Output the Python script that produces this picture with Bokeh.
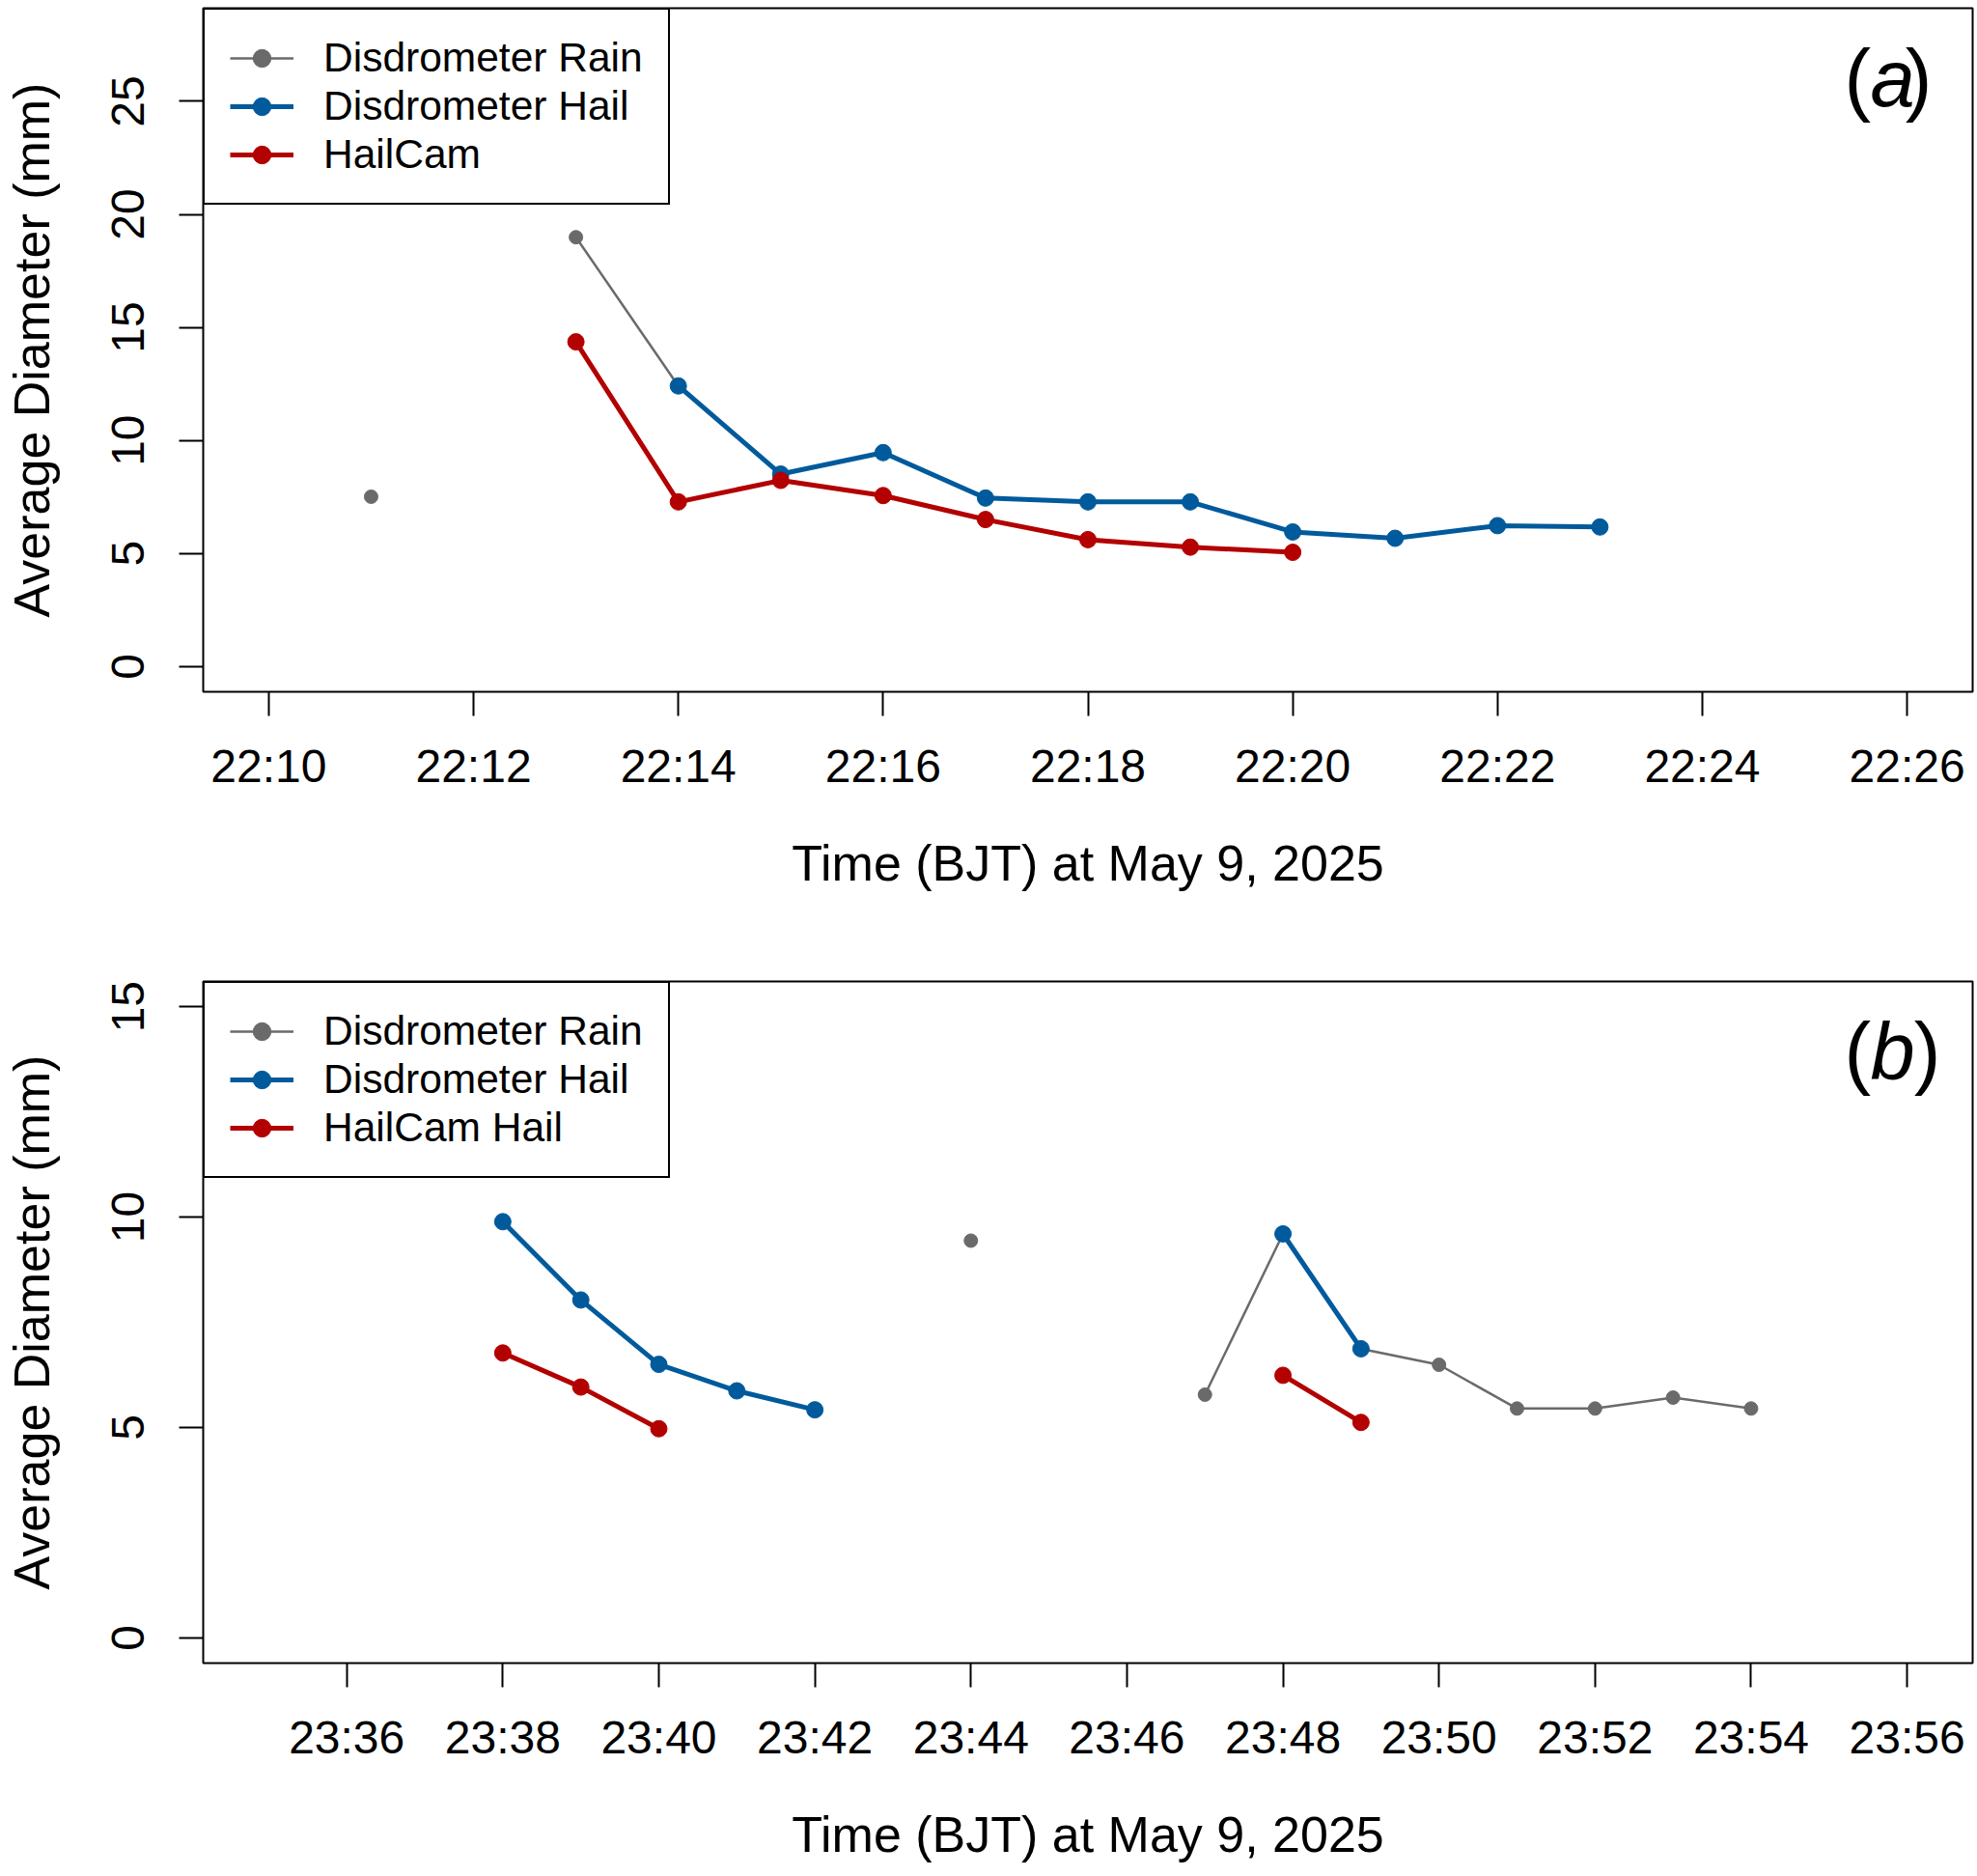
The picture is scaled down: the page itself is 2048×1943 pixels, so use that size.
import math
from bokeh.plotting import figure
from bokeh.models import Range1d, FixedTicker, Legend, LegendItem, Label
from bokeh.layouts import column
from bokeh.embed import file_html
from bokeh.resources import INLINE

FONT = "Liberation Sans"

# ---------------- Panel (a) data ----------------
a_rain_time = ["22:11", "22:12", "22:13", "22:14"]
a_rain_diam = [7.51, None, 18.99, 12.41]
a_hail_time = ["22:14", "22:15", "22:16", "22:17", "22:18", "22:19", "22:20", "22:21", "22:22", "22:23"]
a_hail_diam = [12.41, 8.51, 9.46, 7.45, 7.28, 7.28, 5.95, 5.67, 6.23, 6.17]
a_cam_time = ["22:13", "22:14", "22:15", "22:16", "22:17", "22:18", "22:19", "22:20"]
a_cam_diam = [14.36, 7.28, 8.23, 7.56, 6.50, 5.61, 5.28, 5.05]
a_xticks = ["22:10", "22:12", "22:14", "22:16", "22:18", "22:20", "22:22", "22:24", "22:26"]
a_yticks = [0, 5, 10, 15, 20, 25]
a_xlim = ["22:10", "22:26"]
a_ylim = [0, 28]
a_legend = ["Disdrometer Rain", "Disdrometer Hail", "HailCam"]
a_tag = "a"

# ---------------- Panel (b) data ----------------
b_rain_time = ["23:44", "23:45", "23:46", "23:47", "23:48", "23:49", "23:50", "23:51", "23:52", "23:53", "23:54"]
b_rain_diam = [9.44, None, None, 5.78, 9.60, 6.87, 6.49, 5.45, 5.45, 5.71, 5.45]
b_hail_time = ["23:38", "23:39", "23:40", "23:41", "23:42", "23:43", "23:44", "23:45", "23:46", "23:47", "23:48", "23:49"]
b_hail_diam = [9.89, 8.03, 6.50, 5.87, 5.42, None, None, None, None, None, 9.60, 6.87]
b_cam_time = ["23:38", "23:39", "23:40", "23:41", "23:42", "23:43", "23:44", "23:45", "23:46", "23:47", "23:48", "23:49"]
b_cam_diam = [6.77, 5.96, 4.97, None, None, None, None, None, None, None, 6.24, 5.12]
b_xticks = ["23:36", "23:38", "23:40", "23:42", "23:44", "23:46", "23:48", "23:50", "23:52", "23:54", "23:56"]
b_yticks = [0, 5, 10, 15]
b_xlim = ["23:35", "23:56"]
b_ylim = [0, 15]
b_legend = ["Disdrometer Rain", "Disdrometer Hail", "HailCam Hail"]
b_tag = "b"

X_LABEL = "Time (BJT) at May 9, 2025"
Y_LABEL = "Average Diameter (mm)"

C_RAIN = "#6a6a6a"
C_HAIL = "#005a9c"
C_CAM = "#b30000"


def to_min(s):
    h, m = s.split(":")
    return int(h) * 60 + int(m)


def vals(v):
    return [float("nan") if x is None else float(x) for x in v]


def padded(lo, hi):
    d = (hi - lo) * 0.04
    return Range1d(lo - d, hi + d)


def panel(rain_t, rain_d, hail_t, hail_d, cam_t, cam_d, xticks, yticks, xlim, ylim,
          legend_labels, tag, frame_h, b_top, b_bottom, close_x):
    p = figure(frame_width=1833, frame_height=frame_h,
               min_border_left=209, min_border_right=2,
               min_border_top=b_top, min_border_bottom=b_bottom,
               output_backend="svg", toolbar_location=None,
               x_range=padded(to_min(xlim[0]), to_min(xlim[1])),
               y_range=padded(ylim[0], ylim[1]))
    p.grid.visible = False
    p.outline_line_color = "black"
    p.outline_line_width = 2
    p.background_fill_color = "white"
    p.border_fill_color = "white"

    xt = [to_min(t) for t in xticks]
    p.xaxis.ticker = FixedTicker(ticks=xt)
    p.xaxis.major_label_overrides = {v: t for v, t in zip(xt, xticks)}
    p.yaxis.ticker = FixedTicker(ticks=yticks)

    for ax in (p.xaxis, p.yaxis):
        ax.axis_line_color = None
        ax.major_tick_out = 25
        ax.major_tick_in = 0
        ax.minor_tick_line_color = None
        ax.major_tick_line_width = 2
        ax.major_tick_line_color = "black"
        ax.major_label_text_font = FONT
        ax.major_label_text_font_size = "48px"
        ax.major_label_text_color = "black"
        ax.axis_label_text_font = FONT
        ax.axis_label_text_font_size = "52px"
        ax.axis_label_text_font_style = "normal"
        ax.axis_label_text_color = "black"
    p.xaxis.major_label_standoff = 25
    p.xaxis.axis_label_standoff = 42
    p.yaxis.major_label_orientation = "vertical"
    p.yaxis.major_label_standoff = 36
    p.yaxis.axis_label_standoff = 52
    p.xaxis.axis_label = X_LABEL
    p.yaxis.axis_label = Y_LABEL

    rx = [to_min(t) for t in rain_t]
    hx = [to_min(t) for t in hail_t]
    cx = [to_min(t) for t in cam_t]
    r_l = p.line(rx, vals(rain_d), line_color=C_RAIN, line_width=2.5)
    r_s = p.scatter(rx, vals(rain_d), size=14, fill_color=C_RAIN, line_color=C_RAIN)
    h_l = p.line(hx, vals(hail_d), line_color=C_HAIL, line_width=5)
    h_s = p.scatter(hx, vals(hail_d), size=17, fill_color=C_HAIL, line_color=C_HAIL)
    c_l = p.line(cx, vals(cam_d), line_color=C_CAM, line_width=5)
    c_s = p.scatter(cx, vals(cam_d), size=17, fill_color=C_CAM, line_color=C_CAM)

    legend = Legend(items=[
        LegendItem(label=legend_labels[0], renderers=[r_l, r_s]),
        LegendItem(label=legend_labels[1], renderers=[h_l, h_s]),
        LegendItem(label=legend_labels[2], renderers=[c_l, c_s]),
    ], location="top_left", margin=0, padding=26, spacing=2,
        glyph_width=66, glyph_height=46, label_height=46, label_standoff=31,
        label_text_font=FONT, label_text_font_size="42.5px", label_text_color="black",
        border_line_color="black", border_line_width=2, border_line_alpha=1,
        background_fill_color="white", background_fill_alpha=1)
    p.add_layout(legend)

    fs = 83
    yb = frame_h - 73
    common = dict(x_units="screen", y_units="screen", y=yb, text_font=FONT,
                  text_font_size=f"{fs}px", text_color="black",
                  text_baseline="alphabetic")
    p.add_layout(Label(x=1700, text="(", text_align="left", **common))
    p.add_layout(Label(x=1750, text=tag, text_align="center",
                       text_font_style="italic", **common))
    p.add_layout(Label(x=close_x, text=")", text_align="right", **common))
    return p


pa = panel(a_rain_time, a_rain_diam, a_hail_time, a_hail_diam, a_cam_time, a_cam_diam,
           a_xticks, a_yticks, a_xlim, a_ylim, a_legend, a_tag, 708, 8, 251, 1791)
pb = panel(b_rain_time, b_rain_diam, b_hail_time, b_hail_diam, b_cam_time, b_cam_diam,
           b_xticks, b_yticks, b_xlim, b_ylim, b_legend, b_tag, 706, 49, 210, 1800)

layout = column(pa, pb, spacing=0)
open("out.html", "w").write(file_html(layout, INLINE))
